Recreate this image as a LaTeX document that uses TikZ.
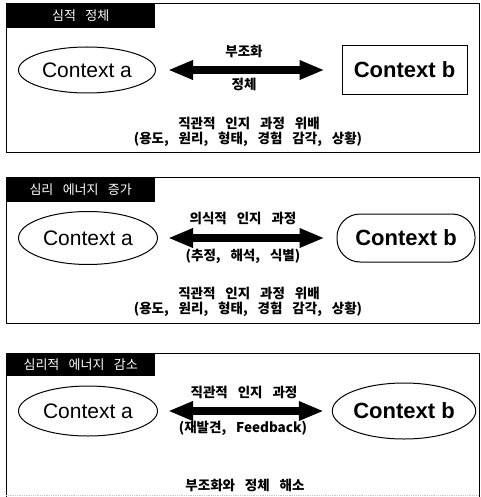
\documentclass[tikz,border=0pt]{standalone}
\usepackage{fontspec}
\setmainfont{Liberation Sans}
\newfontfamily\kr{Noto Sans CJK KR}[WordSpace=3.2]
\usetikzlibrary{shapes.geometric,arrows.meta}
\tikzset{
  frame/.style={draw=black, line width=0.9pt},
  header/.style={fill=black, text=white, anchor=north west, minimum width=149pt, minimum height=25pt, inner sep=0pt, align=center, font=\kr\fontsize{13}{13}\selectfont},
  ctxa/.style={draw, line width=1pt, ellipse, inner sep=0pt, font=\fontsize{21}{21}\selectfont},
  ctxb/.style={draw, line width=1pt, inner sep=0pt, font=\bfseries\fontsize{22}{22}\selectfont},
  krlabel/.style={font=\kr\bfseries\fontsize{13.5}{13.5}\selectfont, inner sep=0pt},
  bigarrow/.style={line width=8.5pt, {Triangle[length=25pt,width=18pt]}-{Triangle[length=25pt,width=18pt]}}
}
\begin{document}
\begin{tikzpicture}[x=1pt,y=-1pt]
\useasboundingbox (0,0) rectangle (480,497);
% ---------- panel 1 ----------
\draw[frame] (6,3) rectangle (479,152);
\node[header] (h1) at (6,3) {심적 정체};
\node[ctxa, minimum width=137pt, minimum height=46pt] (a1) at (87,70) {Context a};
\node[ctxb, minimum width=125pt, minimum height=49pt] (b1) at (404.5,70) {Context b};
\draw[bigarrow, shorten <=12pt, shorten >=17pt] (a1) -- (b1);
\node[krlabel] (u1) at (244,51) {부조화};
\node[krlabel] (d1) at (244,84) {정체};
\node[krlabel] (t1) at (249,123.5) {직관적 인지 과정 위배};
\node[krlabel] (s1) at (248,139) {(용도, 원리, 형태, 경험 감각, 상황)};
% ---------- panel 2 ----------
\draw[frame] (6,177) rectangle (479,323);
\node[header] (h2) at (6,177) {심리 에너지 증가};
\node[ctxa, minimum width=139pt, minimum height=53pt] (a2) at (88,238) {Context a};
\node[ctxb, rounded corners=23pt, minimum width=138pt, minimum height=48pt] (b2) at (406,238) {Context b};
\draw[bigarrow, shorten <=10pt, shorten >=12pt] (a2) -- (b2);
\node[krlabel] (u2) at (243,218) {의식적 인지 과정};
\node[krlabel] (d2) at (243,256) {(추정, 해석, 식별)};
\node[krlabel] (t2) at (249,293.5) {직관적 인지 과정 위배};
\node[krlabel] (s2) at (248,309) {(용도, 원리, 형태, 경험 감각, 상황)};
% ---------- panel 3 ----------
\draw[frame] (6,497) -- (6,353) -- (479,353) -- (479,497);
\draw[gray!45, densely dotted, line width=0.8pt] (6,495) -- (479,495);
\node[header, minimum height=23pt] (h3) at (6,353) {심리적 에너지 감소};
\node[ctxa, minimum width=139pt, minimum height=50pt] (a3) at (88,411) {Context a};
\node[ctxb, ellipse, minimum width=142pt, minimum height=56pt] (b3) at (404,411) {Context b};
\draw[bigarrow, shorten <=10pt, shorten >=8pt] (a3) -- (b3);
\node[krlabel] (u3) at (244,392) {직관적 인지 과정};
\node[krlabel] (d3) at (243,428) {(재발견, Feedback)};
\node[krlabel] (t3) at (245,485) {부조화와 정체 해소};
\end{tikzpicture}
\end{document}
